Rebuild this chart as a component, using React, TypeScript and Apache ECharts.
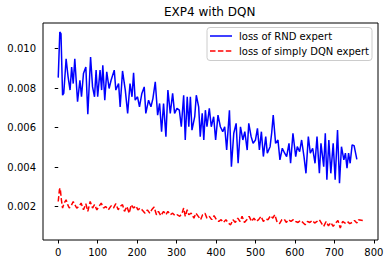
import React, { useEffect, useRef } from "react";
import * as echarts from "echarts";

const titleText = "EXP4 with DQN";
const seriesNames = ["loss of RND expert", "loss of simply DQN expert"];
const seriesColors = ["#0000ff", "#ff0000"];
const xTicks = [0, 100, 200, 300, 400, 500, 600, 700, 800];
const yTicks = [0.002, 0.004, 0.006, 0.008, 0.01];

const rndX = [0, 4, 7, 11, 14, 20, 25, 30, 34, 38, 42, 49, 55, 59, 64, 70, 75, 82, 87, 92, 96, 100, 106, 110, 113, 118, 123, 129, 134, 142, 146, 153, 157, 163, 170, 176, 182, 187, 191, 195, 201, 206, 212, 218, 222, 229, 235, 240, 246, 252, 257, 262, 267, 273, 278, 284, 290, 295, 301, 307, 312, 318, 322, 327, 331, 335, 339, 346, 350, 356, 360, 365, 369, 373, 377, 383, 388, 394, 399, 405, 411, 417, 422, 427, 434, 439, 445, 451, 456, 462, 468, 473, 479, 483, 489, 494, 500, 505, 510, 515, 520, 526, 530, 537, 541, 545, 551, 557, 562, 568, 574, 579, 585, 589, 595, 602, 606, 612, 617, 623, 628, 634, 639, 645, 651, 656, 662, 666, 673, 677, 681, 686, 691, 697, 702, 708, 713, 718, 724, 728, 732, 736, 740, 745, 750, 757];
const rndY = [0.00853, 0.01084, 0.01076, 0.00764, 0.00773, 0.00949, 0.00857, 0.0079, 0.00907, 0.00823, 0.00948, 0.00731, 0.0084, 0.00756, 0.00874, 0.00907, 0.00667, 0.00958, 0.00806, 0.00756, 0.00891, 0.00756, 0.00891, 0.0079, 0.00916, 0.00739, 0.00882, 0.00798, 0.0084, 0.00891, 0.0079, 0.00823, 0.00705, 0.00887, 0.0079, 0.00672, 0.00823, 0.00756, 0.00877, 0.00739, 0.00756, 0.00705, 0.00773, 0.00806, 0.00672, 0.00739, 0.00705, 0.00747, 0.00832, 0.00663, 0.00722, 0.00579, 0.00722, 0.00554, 0.0079, 0.00672, 0.00773, 0.00672, 0.00697, 0.00688, 0.00604, 0.00764, 0.00537, 0.00756, 0.00604, 0.00756, 0.00587, 0.00655, 0.00764, 0.00705, 0.00554, 0.00672, 0.00537, 0.00688, 0.00604, 0.00697, 0.00604, 0.00655, 0.00537, 0.00663, 0.00604, 0.00579, 0.00604, 0.00486, 0.00688, 0.00402, 0.00571, 0.00621, 0.00419, 0.00604, 0.00537, 0.00579, 0.00486, 0.00621, 0.00554, 0.0052, 0.00537, 0.00596, 0.00486, 0.00579, 0.00453, 0.00554, 0.0047, 0.00503, 0.00571, 0.00663, 0.0052, 0.00537, 0.00436, 0.00495, 0.0047, 0.00453, 0.0052, 0.00419, 0.00571, 0.00453, 0.00503, 0.00478, 0.00537, 0.00453, 0.00368, 0.00554, 0.0047, 0.00495, 0.00419, 0.00554, 0.00368, 0.0052, 0.00402, 0.00571, 0.00335, 0.00537, 0.00368, 0.0052, 0.00335, 0.00587, 0.00318, 0.00503, 0.00436, 0.0047, 0.00394, 0.0047, 0.00419, 0.00512, 0.00508, 0.00439];

const dqnX = [0, 3, 5, 8, 11, 15, 20, 24, 28, 32, 38, 42, 47, 53, 58, 64, 70, 75, 81, 87, 92, 98, 103, 109, 115, 120, 127, 134, 140, 146, 152, 157, 163, 168, 174, 180, 185, 191, 197, 202, 208, 214, 220, 226, 232, 237, 243, 249, 254, 260, 267, 273, 278, 284, 290, 296, 302, 308, 314, 318, 322, 327, 331, 337, 344, 349, 355, 361, 366, 372, 377, 383, 389, 395, 401, 407, 413, 419, 425, 431, 437, 443, 449, 455, 461, 466, 472, 478, 484, 490, 496, 502, 508, 514, 520, 526, 532, 538, 544, 549, 555, 561, 567, 573, 578, 584, 590, 596, 602, 608, 614, 620, 626, 632, 638, 644, 650, 656, 662, 668, 673, 679, 685, 691, 697, 703, 709, 715, 721, 727, 733, 739, 745, 751, 757, 761, 772];
const dqnY = [0.00225, 0.00284, 0.00293, 0.00234, 0.00192, 0.00217, 0.00234, 0.00209, 0.00192, 0.002, 0.00225, 0.00209, 0.00192, 0.002, 0.00217, 0.00183, 0.00214, 0.00175, 0.00225, 0.00192, 0.00209, 0.00183, 0.002, 0.00217, 0.00192, 0.002, 0.00183, 0.00203, 0.00192, 0.00214, 0.00183, 0.002, 0.00209, 0.00175, 0.002, 0.00166, 0.00209, 0.00192, 0.00203, 0.00183, 0.00192, 0.0018, 0.00166, 0.00183, 0.00166, 0.00183, 0.00197, 0.00158, 0.00175, 0.00153, 0.00175, 0.00158, 0.00175, 0.00158, 0.00166, 0.00153, 0.00158, 0.0015, 0.00166, 0.00192, 0.0015, 0.00183, 0.00158, 0.00166, 0.00141, 0.00166, 0.0015, 0.00133, 0.00158, 0.00166, 0.00141, 0.0015, 0.00133, 0.00153, 0.00133, 0.00124, 0.00133, 0.00119, 0.00133, 0.00116, 0.00107, 0.00133, 0.00119, 0.00141, 0.00124, 0.0015, 0.00119, 0.00133, 0.0015, 0.00124, 0.00141, 0.00124, 0.00133, 0.0015, 0.00124, 0.00136, 0.00133, 0.00153, 0.00141, 0.00158, 0.00119, 0.00113, 0.00133, 0.00136, 0.00119, 0.00133, 0.00124, 0.00133, 0.00124, 0.00119, 0.00129, 0.00119, 0.00107, 0.00124, 0.00119, 0.00129, 0.00116, 0.00124, 0.00133, 0.00113, 0.00099, 0.00124, 0.00102, 0.00119, 0.00099, 0.00116, 0.00129, 0.00091, 0.00124, 0.00116, 0.00124, 0.00113, 0.00119, 0.00129, 0.00116, 0.00133, 0.00129];

const FONT = "DejaVu Sans";
const DASH = [5.5, 2.4];

export default function App() {
  const ref = useRef<HTMLDivElement>(null);
  useEffect(() => {
    document.body.style.margin = "0";
    const chart = echarts.init(ref.current!, null, { renderer: "svg" });
    const rndData = rndX.map((x, i) => [x, rndY[i]]);
    const dqnData = dqnX.map((x, i) => [x, dqnY[i]]);
    const legendItems = seriesNames.flatMap((name, i) => {
      const y = 36 + i * 15;
      return [
        {
          type: "line",
          z: 101,
          shape: { x1: 210, y1: y, x2: 232, y2: y },
          style: { stroke: seriesColors[i], lineWidth: 1.5, lineDash: i === 1 ? DASH : null },
        },
        {
          type: "text",
          z: 101,
          x: 239,
          y: y,
          style: { text: name, fontFamily: FONT, fontSize: 10, fill: "#000", verticalAlign: "middle", align: "left" },
        },
      ];
    });
    chart.setOption({
      animation: false,
      backgroundColor: "#fff",
      textStyle: { fontFamily: FONT },
      title: {
        text: titleText,
        left: 164,
        top: 6,
        padding: 0,
        textStyle: { fontFamily: FONT, fontSize: 12, fontWeight: "normal", color: "#000" },
      },
      graphic: [
        {
          type: "rect",
          z: 100,
          shape: { x: 207, y: 27.5, width: 165, height: 33, r: 3 },
          style: { fill: "rgba(255,255,255,0.8)", stroke: "#cccccc", lineWidth: 1 },
        },
        ...legendItems,
      ],
      grid: {
        left: 43,
        right: 10,
        top: 23,
        bottom: 24,
        show: true,
        borderColor: "#000",
        borderWidth: 1,
        backgroundColor: "transparent",
      },
      xAxis: {
        type: "value",
        min: -38.6,
        max: 810.6,
        axisLine: { show: false },
        splitLine: { show: false },
        axisTick: { show: true, inside: false, length: 3.5, lineStyle: { color: "#000" }, customValues: xTicks },
        axisLabel: {
          customValues: xTicks,
          margin: 7,
          fontSize: 10,
          fontFamily: FONT,
          color: "#000",
          formatter: (v: number) => String(v),
        },
      },
      yAxis: {
        type: "value",
        min: 0.0003,
        max: 0.0113,
        axisLine: { show: false },
        splitLine: { show: false },
        axisTick: { show: true, inside: false, length: 3.5, lineStyle: { color: "#000" }, customValues: yTicks },
        axisLabel: {
          customValues: yTicks,
          margin: 7,
          fontSize: 10,
          fontFamily: FONT,
          color: "#000",
          formatter: (v: number) => v.toFixed(3),
        },
      },
      series: [
        {
          name: seriesNames[0],
          type: "line",
          data: rndData,
          symbol: "none",
          lineStyle: { color: seriesColors[0], width: 1.5 },
          itemStyle: { color: seriesColors[0] },
        },
        {
          name: seriesNames[1],
          type: "line",
          data: dqnData,
          symbol: "none",
          lineStyle: { color: seriesColors[1], width: 1.5, type: DASH },
          itemStyle: { color: seriesColors[1] },
        },
      ],
    });
    return () => chart.dispose();
  }, []);
  return <div ref={ref} style={{ width: 388, height: 264 }} />;
}
